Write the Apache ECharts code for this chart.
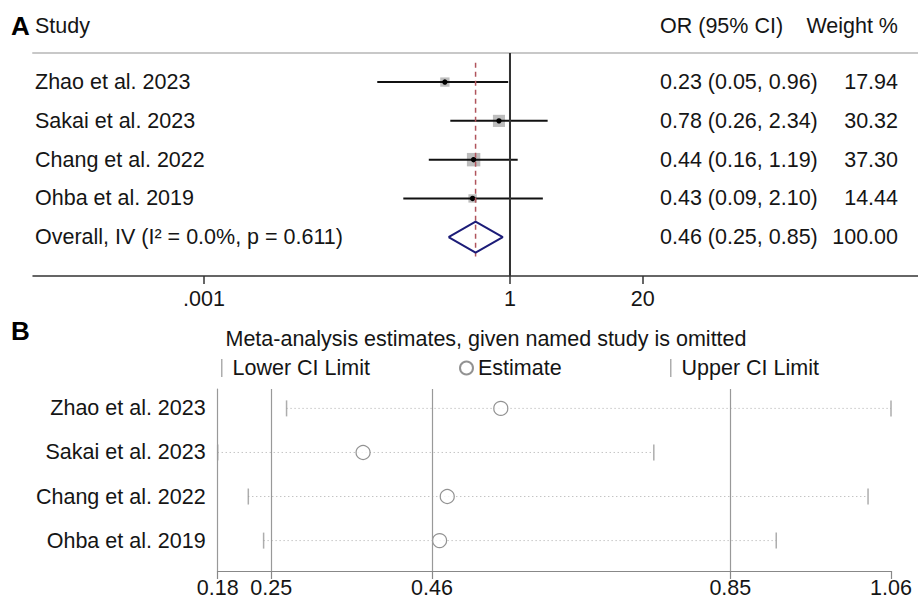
<!DOCTYPE html>
<html>
<head>
<meta charset="utf-8">
<script src="https://cdn.jsdelivr.net/npm/echarts@6/dist/echarts.min.js"></script>
<style>
  html, body { margin: 0; padding: 0; background: #fff; }
  #chart { width: 918px; height: 599px; }
</style>
</head>
<body>
<div id="chart"></div>
<script>
// --- panel A: forest plot ---
const studies = ['Zhao et al. 2023', 'Sakai et al. 2023', 'Chang et al. 2022', 'Ohba et al. 2019'];
const orEst = [0.23, 0.78, 0.44, 0.43];
const orLow = [0.05, 0.26, 0.16, 0.09];
const orHigh = [0.96, 2.34, 1.19, 2.10];
const weights = [17.94, 30.32, 37.30, 14.44];
const overallLabel = 'Overall, IV (I² = 0.0%, p = 0.611)';
const overallEst = 0.46;
const overallLow = 0.25;
const overallHigh = 0.85;
const forestTicks = [0.001, 1, 20];
const forestTickLabels = ['.001', '1', '20'];

// --- panel B: leave-one-out ---
const looEst = [0.55, 0.37, 0.48, 0.47];
const looLow = [0.27, 0.18, 0.22, 0.24];
const looHigh = [1.06, 0.75, 1.03, 0.91];
const looTicks = [Math.min(...looLow), overallLow, overallEst, overallHigh, Math.max(...looHigh)];

const FONT = '"Liberation Sans", Arial, sans-serif';
const lg = v => Math.log10(v);
const fmt = v => v.toFixed(2);

const rowNames = studies.concat([overallLabel]);
const rowCI = studies.map((s, i) => `${fmt(orEst[i])} (${fmt(orLow[i])}, ${fmt(orHigh[i])})`)
  .concat([`${fmt(overallEst)} (${fmt(overallLow)}, ${fmt(overallHigh)})`]);
const rowWeight = weights.map(fmt).concat([fmt(weights.reduce((a, b) => a + b, 0))]);
const overallRow = studies.length + 1;

var myChart = echarts.init(document.getElementById('chart'), null, { renderer: 'svg' });

function forestRow(params, api) {
  const y = api.value(3);
  const lo = api.coord([api.value(0), y]);
  const hi = api.coord([api.value(1), y]);
  const mid = api.coord([api.value(2), y]);
  const side = 2.2 * Math.sqrt(api.value(4)); // box area ~ weight
  return {
    type: 'group',
    children: [
      { type: 'rect', shape: { x: mid[0] - side / 2, y: mid[1] - side / 2, width: side, height: side }, style: { fill: '#bdbdbd' } },
      { type: 'line', shape: { x1: lo[0], y1: lo[1], x2: hi[0], y2: hi[1] }, style: { stroke: '#111', lineWidth: 2 } },
      { type: 'circle', shape: { cx: mid[0], cy: mid[1], r: 2.7 }, style: { fill: '#000' } }
    ]
  };
}

function textRow(params, api) {
  const i = params.dataIndex;
  const y = api.coord([0, api.value(1)])[1];
  const base = { font: '21.5px ' + FONT, fill: '#151515', textVerticalAlign: 'middle' };
  return {
    type: 'group',
    children: [
      { type: 'text', x: 35, y: y, style: Object.assign({ text: rowNames[i], textAlign: 'left' }, base) },
      { type: 'text', x: 660, y: y, style: Object.assign({ text: rowCI[i], textAlign: 'left' }, base) },
      { type: 'text', x: 898, y: y, style: Object.assign({ text: rowWeight[i], textAlign: 'right' }, base) }
    ]
  };
}

function dottedRow(params, api) {
  const y = api.value(2);
  const lo = api.coord([api.value(0), y]);
  const hi = api.coord([api.value(1), y]);
  return {
    type: 'line',
    shape: { x1: lo[0], y1: lo[1], x2: hi[0], y2: hi[1] },
    style: { stroke: '#aaa', lineWidth: 1, lineDash: [1, 3] }
  };
}

const legendText = pad => ({ fontFamily: FONT, fontSize: 21.5, color: '#151515', padding: [0, 0, 0, pad] });

var option = {
  animation: false,
  backgroundColor: '#fff',
  textStyle: { fontFamily: FONT },
  grid: [
    { left: 33, right: 0, top: 53, height: 223 },
    { left: 217.7, right: 27, top: 389, height: 187 }
  ],
  xAxis: [
    {
      gridIndex: 0, type: 'value', position: 'bottom',
      min: -4.676, max: 4.0,
      axisLine: { lineStyle: { color: '#333', width: 1.5 } },
      axisTick: { customValues: forestTicks.map(lg), length: 8, lineStyle: { color: '#333', width: 1.5 } },
      axisLabel: {
        customValues: forestTicks.map(lg), margin: 12, fontSize: 21.5, color: '#151515',
        formatter: v => forestTickLabels[forestTicks.findIndex(t => Math.abs(lg(t) - v) < 1e-6)]
      },
      splitLine: { show: false }
    },
    {
      gridIndex: 0, type: 'value', position: 'top',
      min: -4.676, max: 4.0,
      axisLine: { lineStyle: { color: '#c8c8c8', width: 2 } },
      axisTick: { show: false }, axisLabel: { show: false }, splitLine: { show: false }
    },
    {
      gridIndex: 1, type: 'value',
      min: looTicks[0], max: looTicks[looTicks.length - 1],
      axisLine: { lineStyle: { color: '#888', width: 1.2 } },
      axisTick: { customValues: looTicks, length: 8, lineStyle: { color: '#888', width: 1.2 } },
      axisLabel: { customValues: looTicks, margin: 6, fontSize: 21.5, color: '#151515', formatter: v => fmt(v) },
      splitLine: { show: false }
    }
  ],
  yAxis: [
    { gridIndex: 0, type: 'value', inverse: true, min: 0.25, max: 6, show: false },
    {
      gridIndex: 1, type: 'value', inverse: true, min: 0.56, max: 4.69,
      axisLine: { show: true, lineStyle: { color: '#999', width: 1.2 } },
      axisTick: { show: false },
      axisLabel: {
        customValues: studies.map((s, i) => i + 1), margin: 12, fontSize: 21.5, color: '#151515',
        formatter: v => studies[v - 1]
      },
      splitLine: { show: false }
    }
  ],
  legend: [
    { data: ['Lower CI Limit'], left: 221, top: 357, padding: 0, itemWidth: 1.5, itemHeight: 18, textStyle: legendText(5) },
    { data: ['Estimate'], left: 459, top: 357, padding: 0, itemWidth: 13, itemHeight: 13, textStyle: legendText(0) },
    { data: ['Upper CI Limit'], left: 670, top: 357, padding: 0, itemWidth: 1.5, itemHeight: 18, textStyle: legendText(5) }
  ],
  graphic: [
    { type: 'text', x: 11, y: 26, style: { text: 'A', font: 'bold 26px ' + FONT, fill: '#000', textVerticalAlign: 'middle' } },
    { type: 'text', x: 35, y: 26, style: { text: 'Study', font: '21.5px ' + FONT, fill: '#151515', textVerticalAlign: 'middle' } },
    { type: 'text', x: 660, y: 26, style: { text: 'OR (95% CI)', font: '21.5px ' + FONT, fill: '#151515', textVerticalAlign: 'middle' } },
    { type: 'text', x: 898, y: 26, style: { text: 'Weight %', font: '21.5px ' + FONT, fill: '#151515', textAlign: 'right', textVerticalAlign: 'middle' } },
    { type: 'text', x: 11, y: 331, style: { text: 'B', font: 'bold 26px ' + FONT, fill: '#000', textVerticalAlign: 'middle' } },
    { type: 'text', x: 486, y: 339, style: { text: 'Meta-analysis estimates, given named study is omitted', font: '21.5px ' + FONT, fill: '#151515', textAlign: 'center', textVerticalAlign: 'middle' } }
  ],
  series: [
    // line of no effect (OR = 1)
    {
      type: 'line', xAxisIndex: 0, yAxisIndex: 0, symbol: 'none', silent: true,
      data: [[0, 0.25], [0, 6]],
      lineStyle: { color: '#333', width: 2 }
    },
    // overall estimate, dashed
    {
      type: 'line', xAxisIndex: 0, yAxisIndex: 0, symbol: 'none', silent: true,
      data: [[lg(overallEst), 0.5], [lg(overallEst), overallRow + 0.5]],
      lineStyle: { color: '#b0545c', width: 1.5, type: [5, 4] }
    },
    {
      type: 'custom', xAxisIndex: 0, yAxisIndex: 0, silent: true,
      renderItem: forestRow,
      encode: { x: [0, 1, 2], y: 3 },
      data: studies.map((s, i) => [lg(orLow[i]), lg(orHigh[i]), lg(orEst[i]), i + 1, weights[i]])
    },
    // overall diamond
    {
      type: 'line', xAxisIndex: 0, yAxisIndex: 0, symbol: 'none', silent: true,
      data: [
        [lg(overallLow), overallRow], [lg(overallEst), overallRow - 0.4],
        [lg(overallHigh), overallRow], [lg(overallEst), overallRow + 0.4],
        [lg(overallLow), overallRow]
      ],
      lineStyle: { color: '#1c1c78', width: 2 }
    },
    {
      type: 'custom', xAxisIndex: 0, yAxisIndex: 0, silent: true,
      renderItem: textRow,
      encode: { x: 0, y: 1 },
      data: rowNames.map((s, i) => [0, i + 1])
    },
    // panel B
    {
      type: 'line', xAxisIndex: 2, yAxisIndex: 1, data: [], silent: true,
      markLine: {
        symbol: 'none', silent: true, label: { show: false },
        lineStyle: { color: '#999', width: 1.2, type: 'solid' },
        data: looTicks.slice(1, 4).map(v => ({ xAxis: v }))
      }
    },
    {
      type: 'custom', xAxisIndex: 2, yAxisIndex: 1, silent: true,
      renderItem: dottedRow,
      encode: { x: [0, 1], y: 2 },
      data: studies.map((s, i) => [looLow[i], looHigh[i], i + 1])
    },
    {
      name: 'Lower CI Limit', type: 'scatter', xAxisIndex: 2, yAxisIndex: 1,
      symbol: 'rect', symbolSize: [1.5, 16], itemStyle: { color: '#999' },
      data: looLow.map((v, i) => [v, i + 1])
    },
    {
      name: 'Upper CI Limit', type: 'scatter', xAxisIndex: 2, yAxisIndex: 1,
      symbol: 'rect', symbolSize: [1.5, 16], itemStyle: { color: '#999' },
      data: looHigh.map((v, i) => [v, i + 1])
    },
    {
      name: 'Estimate', type: 'scatter', xAxisIndex: 2, yAxisIndex: 1,
      symbol: 'circle', symbolSize: 14,
      itemStyle: { color: '#fff', borderColor: '#777', borderWidth: 1.2 },
      data: looEst.map((v, i) => [v, i + 1])
    }
  ]
};

myChart.setOption(option);
</script>
</body>
</html>
